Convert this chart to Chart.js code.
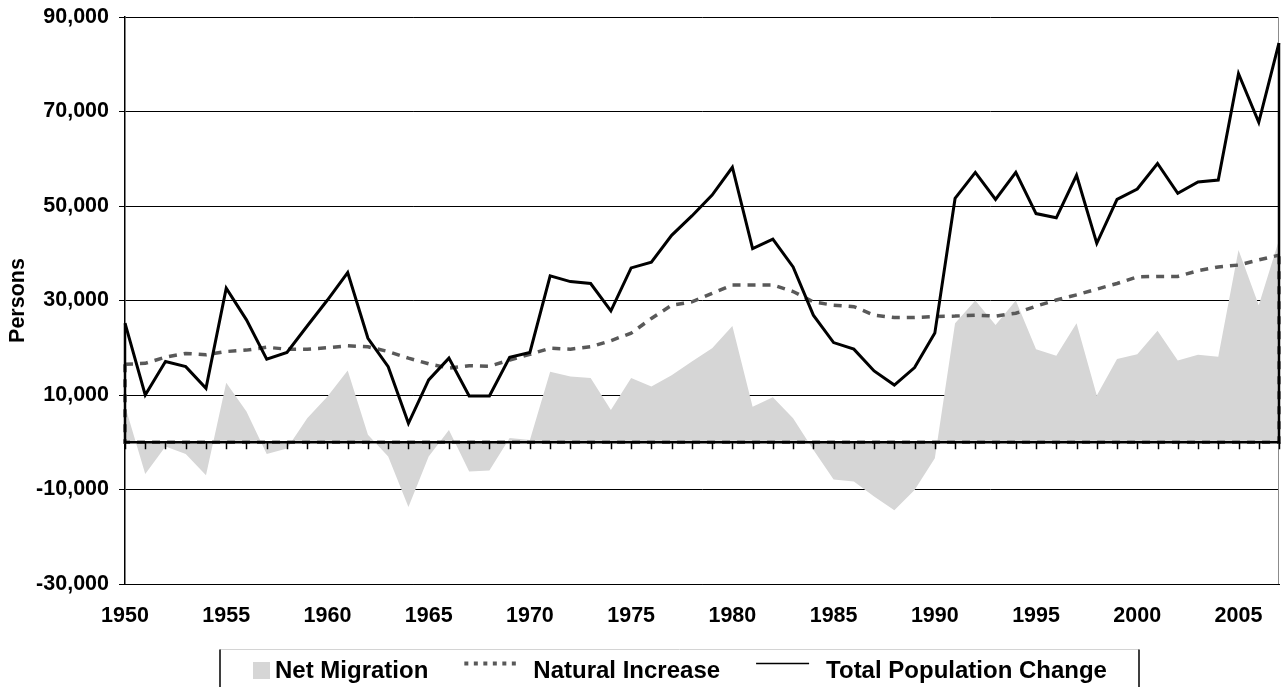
<!DOCTYPE html>
<html>
<head>
<meta charset="utf-8">
<script src="https://cdn.jsdelivr.net/npm/chart.js@4.4.1/dist/chart.umd.min.js"></script>
<style>
  html, body { margin: 0; padding: 0; background: #fff; }
  #wrap { width: 1283px; height: 687px; position: relative; }
</style>
</head>
<body>
<div id="wrap"><canvas id="popChart"></canvas></div>
<script>
const years = [1950,1951,1952,1953,1954,1955,1956,1957,1958,1959,
  1960,1961,1962,1963,1964,1965,1966,1967,1968,1969,
  1970,1971,1972,1973,1974,1975,1976,1977,1978,1979,
  1980,1981,1982,1983,1984,1985,1986,1987,1988,1989,
  1990,1991,1992,1993,1994,1995,1996,1997,1998,1999,
  2000,2001,2002,2003,2004,2005,2006,2007];

const netMigration = [7700,-6700,-900,-2500,-7000,12600,6500,-2500,-1300,5100,
  9700,15200,1600,-3000,-13700,-3000,2600,-6200,-6000,900,
  500,14900,13900,13600,6800,13600,11800,14200,17100,19900,
  24600,7500,9500,5100,-1600,-7900,-8300,-11500,-14400,-10100,
  -3400,25200,30000,24800,30000,19700,18300,25200,9900,17600,
  18600,23600,17300,18500,18100,40700,29000,42800];

const naturalIncrease = [16500,16700,18000,18800,18500,19200,19500,20100,19700,19700,
  20000,20400,20200,19200,17800,16600,15700,16200,16100,17400,
  18600,19900,19700,20200,21500,23100,26200,29000,29700,31500,
  33300,33300,33300,31900,29700,29000,28700,26900,26400,26400,
  26600,26700,26900,26700,27300,28800,30100,31200,32400,33600,
  35000,35100,35100,36300,37100,37500,38600,39600];

const totalChange = [25200,10000,17100,16000,11400,32600,25900,17600,19000,24600,
  30100,35900,22000,16000,4000,13200,17800,9800,9800,18000,
  19000,35200,34000,33600,27800,36900,38100,43800,47900,52300,
  58200,41000,43000,37100,26900,21100,19700,15100,12100,15800,
  23100,51600,57100,51400,57100,48400,47500,56500,42100,51400,
  53600,59000,52700,55100,55500,78000,67700,84500];

const yMin = -30000;
const yMax = 90000;
const yStep = 20000;
const seriesNames = ['Net Migration', 'Natural Increase', 'Total Population Change'];

const FONT = '"Liberation Sans", Arial, sans-serif';

// zero line with year ticks, closed ends of the two line series, right frame
const zeroLine = {
  id: 'zeroLine',
  afterDatasetsDraw(chart) {
    const { ctx, chartArea: a, scales: { x, y } } = chart;
    const y0 = y.getPixelForValue(0);
    ctx.save();
    ctx.lineCap = 'butt';

    ctx.strokeStyle = '#8c8c8c';
    ctx.lineWidth = 1;
    ctx.beginPath();
    ctx.moveTo(a.right - 0.5, a.top);
    ctx.lineTo(a.right - 0.5, a.bottom);
    ctx.stroke();

    [1, 2].forEach(i => {
      const ds = chart.data.datasets[i];
      const pts = chart.getDatasetMeta(i).data;
      const first = pts[0], last = pts[pts.length - 1];
      ctx.strokeStyle = ds.borderColor;
      ctx.lineWidth = i === 2 ? 2.5 : ds.borderWidth;
      ctx.setLineDash(ds.borderDash || []);
      ctx.beginPath();
      ctx.moveTo(first.x, first.y);
      ctx.lineTo(first.x, y0);
      ctx.lineTo(last.x, y0);
      ctx.lineTo(last.x, last.y);
      ctx.stroke();
    });

    ctx.setLineDash([]);
    ctx.strokeStyle = '#000';
    ctx.lineWidth = 1.5;
    years.forEach((yr, i) => {
      const px = Math.round(x.getPixelForValue(i)) + 0.5;
      ctx.beginPath();
      ctx.moveTo(px, y0);
      ctx.lineTo(px, y0 + 7);
      ctx.stroke();
    });
    ctx.restore();
  }
};

// framed legend under the chart
const legendFrame = {
  id: 'legendFrame',
  afterDraw(chart) {
    const ctx = chart.ctx;
    const H = chart.height;
    const ds = chart.data.datasets;
    const top = 649.5, left = 220, right = 1139;
    const base = 678, sampleY = 663.5;
    ctx.save();
    ctx.lineCap = 'butt';

    ctx.strokeStyle = '#d4d4d4';
    ctx.lineWidth = 1;
    ctx.beginPath(); ctx.moveTo(left, top); ctx.lineTo(right, top); ctx.stroke();
    ctx.strokeStyle = '#000';
    ctx.lineWidth = 1.5;
    ctx.beginPath();
    ctx.moveTo(left, top); ctx.lineTo(left, H);
    ctx.moveTo(right, top); ctx.lineTo(right, H);
    ctx.stroke();

    ctx.font = 'bold 24px ' + FONT;
    ctx.textBaseline = 'alphabetic';
    let cx = 253;

    ctx.fillStyle = ds[0].backgroundColor;
    ctx.fillRect(cx, 662, 17, 17);
    cx += 22;
    ctx.fillStyle = '#000';
    ctx.fillText(ds[0].label, cx, base);
    cx += ctx.measureText(ds[0].label).width + 36;

    ctx.strokeStyle = ds[1].borderColor;
    ctx.lineWidth = 4;
    ctx.setLineDash([4, 5.5]);
    ctx.beginPath(); ctx.moveTo(cx, sampleY); ctx.lineTo(cx + 52, sampleY); ctx.stroke();
    ctx.setLineDash([]);
    cx += 69;
    ctx.fillText(ds[1].label, cx, base);
    cx += ctx.measureText(ds[1].label).width + 36;

    ctx.strokeStyle = ds[2].borderColor;
    ctx.lineWidth = 1.5;
    ctx.beginPath(); ctx.moveTo(cx, sampleY); ctx.lineTo(cx + 53, sampleY); ctx.stroke();
    cx += 70;
    ctx.fillText(ds[2].label, cx, base);
    ctx.restore();
  }
};

const ctx = document.getElementById('popChart').getContext('2d');

const popChart = new Chart(ctx, {
  type: 'line',
  data: {
    labels: years.map(String),
    datasets: [{
      label: seriesNames[0],
      data: netMigration,
      fill: 'origin',
      backgroundColor: '#d6d6d6',
      borderColor: 'rgba(0,0,0,0)',
      borderWidth: 0,
      pointRadius: 0,
      tension: 0,
      order: 3
    },
    {
      label: seriesNames[1],
      data: naturalIncrease,
      fill: false,
      borderColor: '#595959',
      borderWidth: 3.5,
      borderDash: [8, 7],
      pointRadius: 0,
      tension: 0,
      order: 2
    },
    {
      label: seriesNames[2],
      data: totalChange,
      fill: false,
      borderColor: '#000000',
      borderWidth: 3,
      pointRadius: 0,
      tension: 0,
      order: 1
    }]
  },
  options: {
    responsive: true,
    maintainAspectRatio: false,
    animation: false,
    events: [],
    layout: { padding: { top: 17, right: 4, bottom: 53, left: 0 } },
    scales: {
      x: {
        grid: { display: false, drawTicks: false },
        border: { display: true, color: '#000', width: 1 },
        ticks: {
          autoSkip: false,
          maxRotation: 0,
          minRotation: 0,
          padding: 19,
          color: '#000',
          font: { family: FONT, size: 21.5, weight: 'bold' },
          callback: (v, i) => (years[i] % 5 === 0 ? String(years[i]) : '')
        },
        afterFit: s => { s.height = 50; s.paddingLeft = 0; s.paddingRight = 0; }
      },
      y: {
        min: yMin,
        max: yMax,
        grid: { color: '#000', lineWidth: 1, tickLength: 6, drawTicks: true },
        border: { display: true, color: '#000', width: 1.5 },
        ticks: {
          stepSize: yStep,
          padding: 10,
          color: '#000',
          font: { family: FONT, size: 21.5, weight: 'bold' },
          callback: v => v.toLocaleString('en-US')
        },
        title: {
          display: true,
          text: 'Persons',
          color: '#000',
          padding: { top: 5, bottom: 0 },
          font: { family: FONT, size: 21.5, weight: 'bold' }
        },
        afterFit: s => { s.width = 125; s.paddingTop = 0; s.paddingBottom = 0; }
      }
    },
    plugins: {
      legend: { display: false },
      tooltip: { enabled: false }
    }
  },
  plugins: [zeroLine, legendFrame]
});
</script>
</body>
</html>
